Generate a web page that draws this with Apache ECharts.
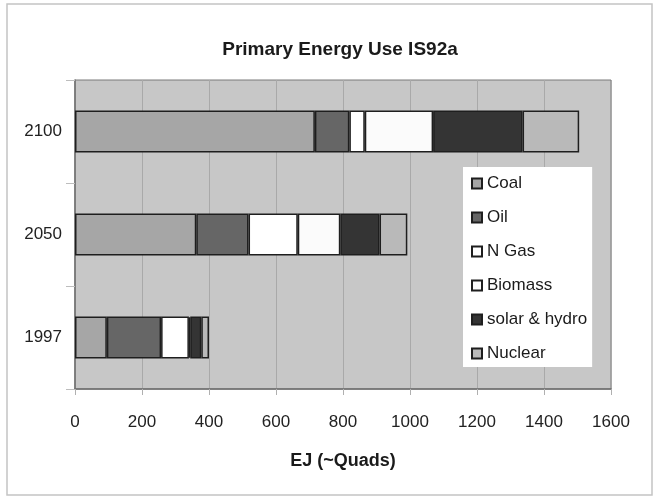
<!DOCTYPE html>
<html>
<head>
<meta charset="utf-8">
<style>
  html, body { margin: 0; padding: 0; background: #fff; }
  #chart { width: 655px; height: 496px; }
</style>
<script src="https://cdn.jsdelivr.net/npm/echarts@6/dist/echarts.min.js"></script>
</head>
<body>
<div id="chart"></div>
<script>
// years, bottom to top
const years = ["1997", "2050", "2100"];
const xTicks = [0, 200, 400, 600, 800, 1000, 1200, 1400, 1600];

// EJ per source, same order as years
const coal = [95, 362, 716];
const oil = [162, 156, 103];
const nGas = [83, 147, 46];
const biomass = [4, 127, 204];
const solarHydro = [33, 117, 267];
const nuclear = [23, 83, 169];

const seriesNames = ["Coal", "Oil", "N Gas", "Biomass", "solar & hydro", "Nuclear"];
const seriesData = [coal, oil, nGas, biomass, solarHydro, nuclear];
const seriesColors = ["#a6a6a6", "#666666", "#ffffff", "#fbfbfb", "#343434", "#b9b9b9"];

const font = "Liberation Sans, Arial, sans-serif";
const chart = echarts.init(document.getElementById("chart"), null, { renderer: "canvas" });

const option = {
  animation: false,
  textStyle: { fontFamily: font },
  title: {
    text: "Primary Energy Use IS92a",
    left: 335,
    textAlign: "center",
    top: 35,
    textStyle: { fontFamily: font, fontSize: 19, fontWeight: "bold", color: "#1a1a1a" },
  },
  graphic: [{
    type: "rect",
    shape: { x: 7, y: 4, width: 645, height: 491 },
    style: { fill: "none", stroke: "#c4c4c4", lineWidth: 1.5 },
    silent: true,
    z: -10,
  }],
  legend: {
    orient: "vertical",
    left: 463,
    top: 167,
    backgroundColor: "#ffffff",
    padding: [8, 5, 5, 8],
    itemGap: 17,
    itemWidth: 10,
    itemHeight: 10,
    icon: "rect",
    data: seriesNames,
    textStyle: { fontFamily: font, fontSize: 17, color: "#1a1a1a" },
  },
  grid: {
    left: 75, right: 44, top: 80, bottom: 107,
    show: true,
    backgroundColor: "#c7c7c7",
    borderColor: "#7a7a7a",
    borderWidth: 1,
  },
  xAxis: {
    type: "value",
    min: 0,
    max: 1600,
    interval: 200,
    name: "EJ (~Quads)",
    nameLocation: "middle",
    nameGap: 63,
    nameTextStyle: { fontFamily: font, fontSize: 18, fontWeight: "bold", color: "#1a1a1a" },
    axisLine: { show: true, lineStyle: { color: "#6e6e6e", width: 1.5 } },
    axisTick: { show: true, length: 6, lineStyle: { color: "#b0b0b0" } },
    axisLabel: {
      margin: 25, fontSize: 17, color: "#222",
      formatter: (v) => (xTicks.includes(v) ? String(v) : ""),
    },
    splitLine: { show: true, lineStyle: { color: "#a9a9a9", width: 1 } },
  },
  yAxis: {
    type: "category",
    data: years,
    axisLine: { show: true, lineStyle: { color: "#6e6e6e", width: 1.5 } },
    axisTick: { show: true, length: 9, lineStyle: { color: "#bdbdbd" } },
    axisLabel: { margin: 13, fontSize: 17, color: "#222" },
    splitLine: { show: false },
  },
  series: seriesNames.map((name, i) => ({
    name,
    type: "bar",
    stack: "energy",
    barWidth: 42,
    data: seriesData[i],
    itemStyle: { color: seriesColors[i], borderColor: "#1e1e1e", borderWidth: 1.5 },
    emphasis: { disabled: true },
  })),
};

chart.setOption(option);
</script>
</body>
</html>
